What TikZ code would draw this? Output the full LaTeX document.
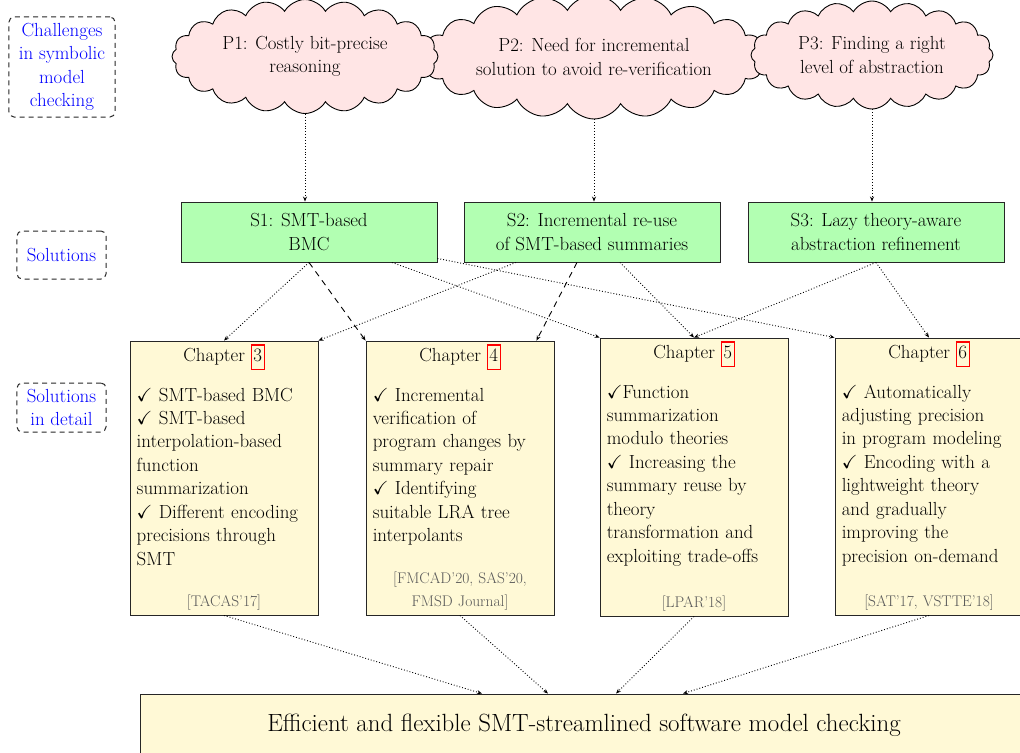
\documentclass[tikz,border=0pt]{standalone}
\usepackage{amssymb}
\usetikzlibrary{shapes.symbols,arrows.meta,calc}

\definecolor{chapfill}{RGB}{255,249,214}
\definecolor{citegray}{RGB}{88,88,88}

% chapter number framed like a hyperlink
\newcommand{\chref}[1]{{\setlength\fboxrule{1.1bp}\setlength\fboxsep{1.5bp}%
  \fcolorbox{red}{chapfill}{\rule[-6bp]{0pt}{20bp}#1}}}

\tikzset{
  txt/.style={font=\fontsize{19}{23.5}\selectfont},
  labelbox/.style={txt, draw=black!85, line width=1bp, dash pattern=on 5bp off 4bp,
    rounded corners=5bp, text=blue, align=center, inner sep=0pt},
  problem/.style={txt, cloud, cloud puffs=20, cloud puff arc=120, cloud ignores aspect,
    draw=black, line width=0.9bp, fill=red!10, align=center},
  solution/.style={txt, draw=black!85, line width=0.9bp, fill=green!30,
    minimum width=256bp, minimum height=60bp, align=center},
  chapter/.style={draw=black!85, line width=0.9bp, fill=chapfill,
    minimum width=188bp, minimum height=274bp, inner sep=0pt},
  chaptitle/.style={txt, anchor=base},
  chapbody/.style={txt, anchor=north west, inner sep=0pt, text width=180bp, align=left},
  chapcite/.style={font=\fontsize{15.5}{23}\selectfont, text=citegray, anchor=south,
    inner sep=0pt, text width=180bp, align=center},
  goalbox/.style={draw=black!85, line width=0.9bp, fill=chapfill,
    minimum width=888bp, minimum height=76bp, inner sep=0pt},
  link/.style={-{Stealth[length=5bp,width=4bp]}, line width=0.9bp},
  dotlink/.style={link, dotted},
  dashlink/.style={link, dash pattern=on 6bp off 5bp},
}

\begin{document}
\begin{tikzpicture}[x=1bp,y=-1bp]
\useasboundingbox (0,0) rectangle (1020,753);
\clip (0,0) rectangle (1020,753);

% row labels
\node[labelbox, minimum width=106bp, minimum height=100bp] (lblP) at (62,67)
  {Challenges\\in symbolic\\model\\checking};
\node[labelbox, minimum width=89bp, minimum height=48bp] (lblS) at (61.5,255) {Solutions};
\node[labelbox, minimum width=89bp, minimum height=49bp] (lblD) at (61.5,407.5)
  {Solutions\\in detail};

% challenges
\node[problem, minimum width=334bp, minimum height=124bp] (p2) at (594,57)
  {P2: Need for incremental\\solution to avoid re-verification};
\node[problem, minimum width=266bp, minimum height=114bp] (p1) at (305,56.5)
  {P1: Costly bit-precise\\reasoning};
\node[problem, minimum width=242bp, minimum height=108bp] (p3) at (872,55)
  {P3: Finding a right\\level of abstraction};

% solutions
\node[solution] (s1) at (309,232) {S1: SMT-based\\BMC};
\node[solution] (s2) at (592,232) {S2: Incremental re-use\\of SMT-based summaries};
\node[solution] (s3) at (876,232) {S3: Lazy theory-aware\\abstraction refinement};

% chapters
\node[chapter] (ch3) at (224,478) {};
\node[chapter] (ch4) at (460,478) {};
\node[chapter, minimum height=278bp] (ch5) at (694,477) {};
\node[chapter, minimum height=277bp] (ch6) at (929,476.5) {};

\node[chaptitle] (ch3t) at ([yshift=-20.5bp]ch3.north) {Chapter \chref{3}};
\node[chaptitle] (ch4t) at ([yshift=-20.5bp]ch4.north) {Chapter \chref{4}};
\node[chaptitle] (ch5t) at ([yshift=-20.5bp]ch5.north) {Chapter \chref{5}};
\node[chaptitle] (ch6t) at ([yshift=-20.5bp]ch6.north) {Chapter \chref{6}};

\node[chapbody] (ch3b) at ([xshift=7bp,yshift=-44bp]ch3.north west)
  {\strut$\checkmark$ SMT-based BMC\\$\checkmark$ SMT-based\\interpolation-based\\function\\summarization\\$\checkmark$ Different encoding\\precisions through\\SMT};
\node[chapbody] (ch4b) at ([xshift=7bp,yshift=-44bp]ch4.north west)
  {\strut$\checkmark$ Incremental\\verification of\\program changes by\\summary repair\\$\checkmark$ Identifying\\suitable LRA tree\\interpolants};
\node[chapbody] (ch5b) at ([xshift=7bp,yshift=-44bp]ch5.north west)
  {\strut$\checkmark$Function\\summarization\\modulo theories\\$\checkmark$ Increasing the\\summary reuse by\\theory\\transformation and\\exploiting trade-offs};
\node[chapbody] (ch6b) at ([xshift=7bp,yshift=-44bp]ch6.north west)
  {\strut$\checkmark$ Automatically\\adjusting precision\\in program modeling\\$\checkmark$ Encoding with a\\lightweight theory\\and gradually\\improving the\\precision on-demand};

\node[chapcite] (ch3c) at ([yshift=2bp]ch3.south) {[TACAS'17]\strut};
\node[chapcite] (ch4c) at ([yshift=2bp]ch4.south) {[FMCAD'20, SAS'20,\\FMSD Journal]\strut};
\node[chapcite] (ch5c) at ([yshift=2bp]ch5.south) {[LPAR'18]\strut};
\node[chapcite] (ch6c) at ([yshift=2bp]ch6.south) {[SAT'17, VSTTE'18]\strut};

% overall goal
\node[goalbox] (goal) at (584,732) {};
\node[font=\fontsize{25}{30}\selectfont] (goalt) at (584,725)
  {Efficient and flexible SMT-streamlined software model checking};

% challenges to solutions
\draw[dotlink] (p1.south) -- (p1.south |- s1.north);
\draw[dotlink] (p2.south) -- (p2.south |- s2.north);
\draw[dotlink] (p3.south) -- (p3.south |- s3.north);

% solutions to chapters
\draw[dotlink] (s1.south) -- (ch3.north);
\draw[dashlink] (s1.south) -- (ch4.north west);
\draw[dotlink] ([xshift=83bp]s1.south) -- (ch5.north west);
\draw[dotlink] ([yshift=4bp]s1.south east) -- (ch6.north west);
\draw[dotlink] ([xshift=-76bp]s2.south) -- (ch3.north east);
\draw[dashlink] ([xshift=-15bp]s2.south) -- ([xshift=-18bp]ch4.north east);
\draw[dotlink] ([xshift=28bp]s2.south) -- (ch5.north);
\draw[dotlink] (s3.south) -- (ch5.north);
\draw[dotlink] (s3.south) -- (ch6.north);

% chapters to goal
\draw[dotlink] (ch3.south) -- ([xshift=-102bp]goal.north);
\draw[dotlink] (ch4.south) -- ([xshift=-36bp]goal.north);
\draw[dotlink] (ch5.south) -- ([xshift=32bp]goal.north);
\draw[dotlink] (ch6.south) -- ([xshift=99bp]goal.north);
\end{tikzpicture}
\end{document}
